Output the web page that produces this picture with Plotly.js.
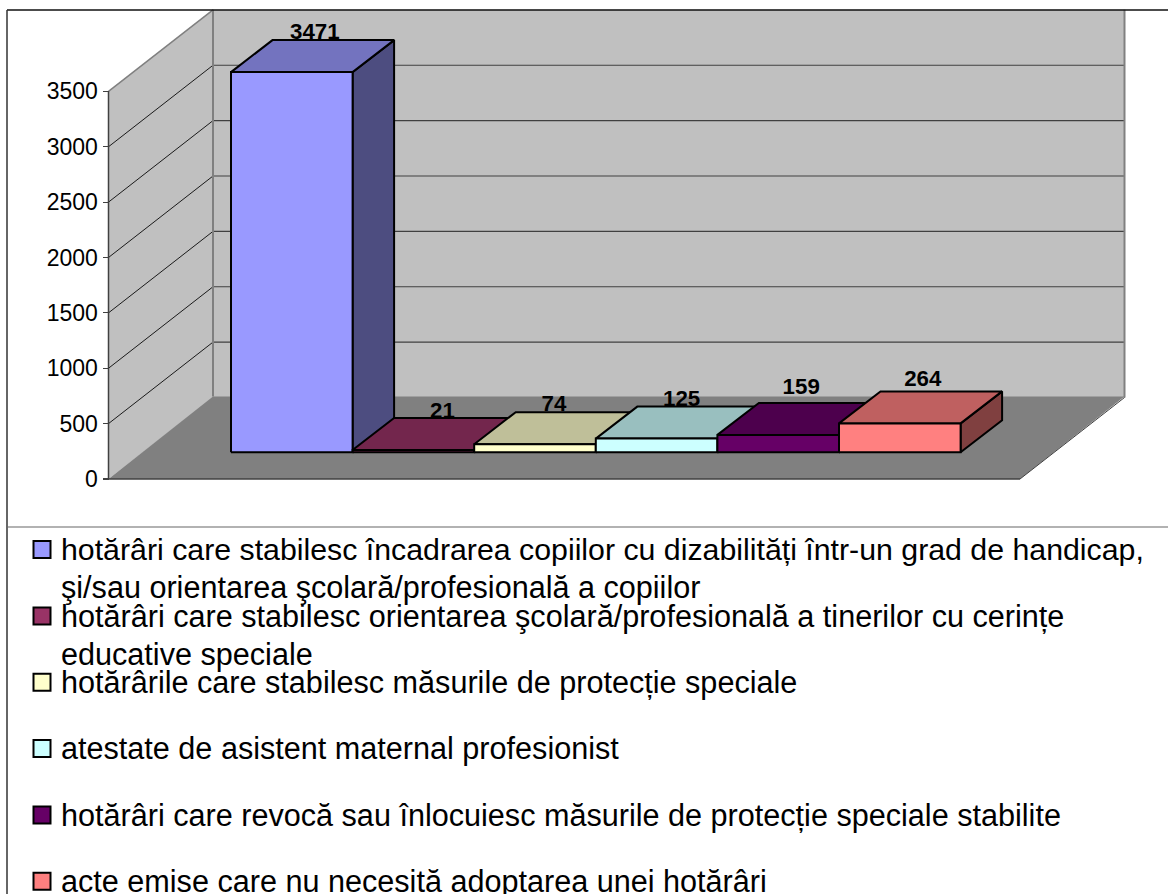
<!DOCTYPE html>
<html>
<head>
<meta charset="utf-8">
<script src="https://cdn.plot.ly/plotly-3.0.1.min.js"></script>
<style>html,body{margin:0;padding:0;background:#fff;overflow:hidden}#chart{width:1168px;height:894px}</style>
</head>
<body>
<div id="chart"></div>
<script>
// ---- data ----
const categories = [
  "hotărâri care stabilesc încadrarea copiilor cu dizabilități într-un grad de handicap, şi/sau orientarea şcolară/profesională a copiilor",
  "hotărâri care stabilesc orientarea şcolară/profesională a tinerilor cu cerințe educative speciale",
  "hotărârile care stabilesc măsurile de protecție speciale",
  "atestate de asistent maternal profesionist",
  "hotărâri care revocă sau înlocuiesc măsurile de protecție speciale stabilite",
  "acte emise care nu necesită adoptarea unei hotărâri"
];
const values = [3471, 21, 74, 125, 159, 264];
const frontColors = ["#9999FF", "#993366", "#FFFFCC", "#CCFFFF", "#660066", "#FF8080"];
const topColors   = ["#7373BF", "#73264D", "#BFBF99", "#99BFBF", "#4D004D", "#BF6060"];
const sideColors  = ["#4D4D80", "#4D1A33", "#808066", "#668080", "#330033", "#804040"];
const tickValues = [0, 500, 1000, 1500, 2000, 2500, 3000, 3500];
const legendLines = [
  ["hotărâri care stabilesc încadrarea copiilor cu dizabilități într-un grad de handicap,", "şi/sau orientarea şcolară/profesională a copiilor"],
  ["hotărâri care stabilesc orientarea şcolară/profesională a tinerilor cu cerințe", "educative speciale"],
  ["hotărârile care stabilesc măsurile de protecție speciale"],
  ["atestate de asistent maternal profesionist"],
  ["hotărâri care revocă sau înlocuiesc măsurile de protecție speciale stabilite"],
  ["acte emise care nu necesită adoptarea unei hotărâri"]
];

// ---- layout of the oblique box (page px) ----
const W = 1168, H = 894;
const y0px = 479, pxPerUnit = 0.11075;
const val = p => (y0px - p) / pxPerUnit;           // page y -> axis value
const span = v => v / pxPerUnit;                   // px length -> axis units
const boxLeft = 108.5, boxRight = 1020, depthX = 104.5, depthY = span(81.5), floorDepthY = span(82.5);
const maxTick = tickValues[tickValues.length - 1];
const barBase = val(452.3), barStart = 231, barWidth = 121.6;
const barDX = 41.5, barDY = span(32), barShrink = 0.989;
const labelNudgeX = [0, 6, -4, 2, 0, 0];
const labelNudgeY = [-3, -4, -3, -4, 4, 1];
const FONT = '"Liberation Sans", Arial, sans-serif';

// ---- walls, floor, grid as shapes below the traces ----
const poly = (xs, ys) => 'M' + xs.map((x, i) => x + ',' + ys[i]).join('L') + 'Z';
const shapes = [
  {type:'path', layer:'below', xref:'x', yref:'y', fillcolor:'#C0C0C0', line:{width:0},
   path: poly([boxLeft, boxLeft+depthX, boxLeft+depthX, boxLeft], [0, depthY, maxTick+depthY, maxTick])},
  {type:'path', layer:'below', xref:'x', yref:'y', fillcolor:'#C0C0C0', line:{width:0},
   path: poly([boxLeft+depthX, boxRight+depthX, boxRight+depthX, boxLeft+depthX], [depthY, depthY, maxTick+depthY, maxTick+depthY])},
  {type:'path', layer:'below', xref:'x', yref:'y', fillcolor:'#808080', line:{width:0},
   path: poly([boxLeft, boxRight, boxRight+depthX, boxLeft+depthX], [0, 0, floorDepthY, floorDepthY])}
];
tickValues.slice(1, -1).forEach(v => {
  shapes.push({type:'line', layer:'below', xref:'x', yref:'y', x0:boxLeft, y0:v, x1:boxLeft+depthX, y1:v+depthY, line:{color:'#1a1a1a', width:1}});
  shapes.push({type:'line', layer:'below', xref:'x', yref:'y', x0:boxLeft+depthX, y0:v+depthY, x1:boxRight+depthX, y1:v+depthY, line:{color:'#404040', width:1.2}});
});
const seg = (x0,y0,x1,y1,color,width) => ({type:'line', layer:'below', xref:'x', yref:'y', x0,y0,x1,y1, line:{color,width}});
shapes.push(seg(boxLeft, maxTick, boxLeft+depthX, maxTick+depthY, '#808080', 1.5));
shapes.push(seg(boxLeft+depthX, floorDepthY, boxLeft+depthX, maxTick+depthY, '#808080', 2));
shapes.push(seg(boxRight+depthX, depthY, boxRight+depthX, maxTick+depthY, '#808080', 2));
shapes.push(seg(boxLeft, 0, boxRight, 0, '#404040', 1.5));
shapes.push(seg(boxRight, 0, boxRight+depthX, depthY, '#404040', 1));
shapes.push(seg(boxLeft, 0, boxLeft, maxTick, '#404040', 1.5));
// chart frame and legend separator
shapes.push({type:'line', xref:'paper', yref:'paper', x0:7/W, x1:1, y0:1-10/H, y1:1-10/H, line:{color:'#111', width:1.5}});
shapes.push({type:'line', xref:'paper', yref:'paper', x0:7/W, x1:7/W, y0:1-10/H, y1:0, line:{color:'#333', width:1.5}});
shapes.push({type:'line', xref:'paper', yref:'paper', x0:7/W, x1:1, y0:1-527/H, y1:1-527/H, line:{color:'#666', width:1.2}});

// ---- bars: faces painted left to right so each bar covers the side of the previous one ----
const barX = i => barStart + i * barWidth;
const barTop = i => barBase + values[i] * barShrink;
const traces = [];
const face = (name, color, x, y) => traces.push({type:'scatter', mode:'lines', name, fill:'toself', fillcolor:color,
  line:{color:'#000', width:2}, x, y});
values.forEach((v, i) => {
  const xl = barX(i), xr = xl + barWidth, t = barTop(i);
  face('side', sideColors[i], [xr, xr+barDX, xr+barDX, xr, xr], [barBase, barBase+barDY, t+barDY, t, barBase]);
  face('top', topColors[i], [xl, xr, xr+barDX, xl+barDX, xl], [t, t, t+barDY, t+barDY, t]);
  face('front', frontColors[i], [xl, xr, xr, xl, xl], [barBase, barBase, t, t, barBase]);
});
// data labels
traces.push({type:'scatter', mode:'text', cliponaxis:false,
  x: values.map((_, i) => barX(i) + barWidth/2 + 23 + labelNudgeX[i]),
  y: values.map((_, i) => barTop(i) + span(42 + labelNudgeY[i])),
  text: values.map(String), textposition:'middle center',
  textfont:{family:FONT, size:22.3, color:'#000', weight:700}});

// ---- legend ----
const legendKeyY = [549.5, 616, 682.3, 748.5, 815, 881.2];
const lineGap = 38;
traces.push({type:'scatter', mode:'markers', x: categories.map(() => 42), y: legendKeyY.map(val),
  text: categories, hoverinfo:'text',
  marker:{symbol:'square', size:17, color:frontColors, line:{color:'#000', width:2}}});
const annotations = [];
legendLines.forEach((lines, i) => lines.forEach((t, j) => {
  annotations.push({xref:'paper', yref:'paper', x:59.5/W, y:1-(legendKeyY[i]+j*lineGap)/H,
    xanchor:'left', yanchor:'middle', showarrow:false, text:t, borderpad:0,
    font:{family:FONT, size:(i === 0 && j === 0) ? 30.3 : 30.6, color:'#000'}});
}));

Plotly.newPlot('chart', traces, {
  width:W, height:H, margin:{l:0,r:0,t:0,b:0,pad:0}, paper_bgcolor:'#fff', plot_bgcolor:'rgba(0,0,0,0)',
  showlegend:false, hovermode:false,
  xaxis:{range:[0,W], visible:false, fixedrange:true},
  yaxis:{range:[val(H), val(0)], anchor:'free', position:boxLeft/W, tickmode:'array', tickvals:tickValues,
    ticktext:tickValues.map(String), ticks:'outside', ticklen:6, tickwidth:1.2, tickcolor:'#404040',
    showline:false, showgrid:false, zeroline:false, fixedrange:true,
    tickfont:{family:FONT, size:23, color:'#000'}},
  shapes, annotations
}, {displayModeBar:false, staticPlot:true});
</script>
</body>
</html>
